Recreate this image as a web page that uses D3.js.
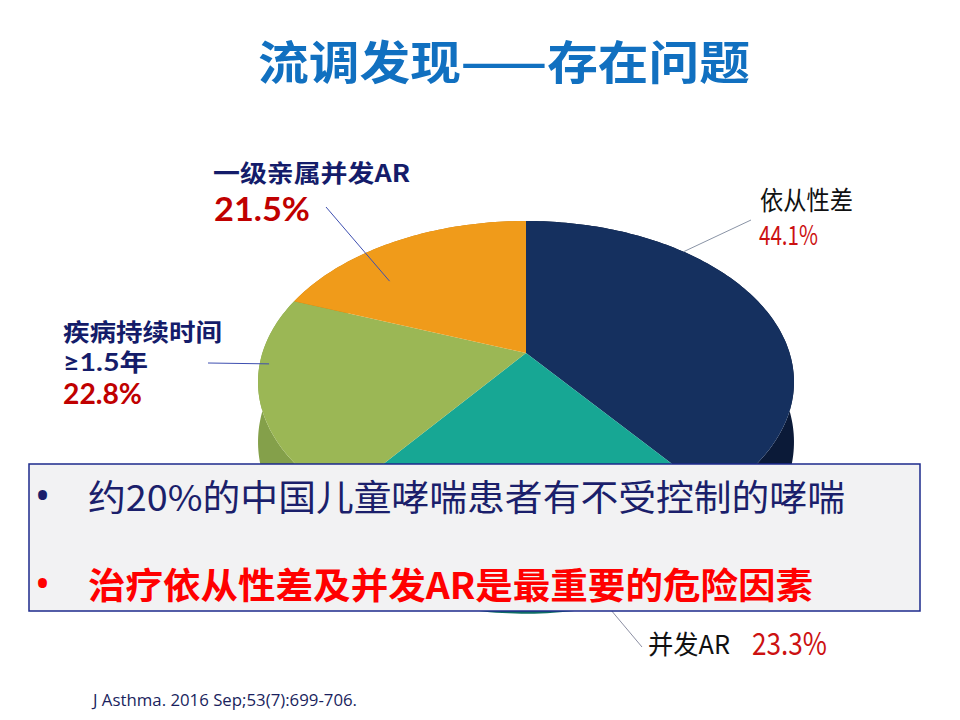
<!DOCTYPE html>
<html>
<head>
<meta charset="utf-8">
<script src="https://cdn.jsdelivr.net/npm/d3@7"></script>
<style>
body{margin:0;background:#fff;}
svg{display:block;}
</style>
</head>
<body>
<svg id="chart" width="960" height="720"></svg>
<script>
// data
var categories = ['依从性差', '并发AR', '疾病持续时间≥1.5年', '一级亲属并发AR'];
var values = [44.1, 23.3, 22.8, 21.5];
var valueLabels = ['44.1%', '23.3%', '22.8%', '21.5%'];
var categoryLines = [['依从性差'], ['并发AR'], ['疾病持续时间', '≥1.5年'], ['一级亲属并发AR']];
var bullets = ['约20%的中国儿童哮喘患者有不受控制的哮喘', '治疗依从性差及并发AR是最重要的危险因素'];

var faceColors = ['#15305F', '#17A794', '#9BB755', '#F09B1A'];
var sideColors = ['#0B1A38', '#0E6E64', '#84A04A', '#C47C12'];

var CJK = '"Noto Sans CJK SC", "Noto Sans", sans-serif';
var LATIN = 'Lato, "Noto Sans", sans-serif';
var MIXED = 'Lato, "Noto Sans CJK SC", sans-serif';

var svg = d3.select('#chart');

// perspective pie settings
var pie3d = {cx: 526, cy: 353, R: 263.6, A: 155.8, p: 0.18, depth: 58};

function proj(theta, r, z){
	var u = r * Math.sin(theta);
	var t = -r * Math.cos(theta);
	var s = 1 / (1 - pie3d.p * t);
	return [pie3d.cx + pie3d.R * u * s, pie3d.cy + (pie3d.A * t + (z || 0) * pie3d.depth) * s];
}

function arcPoints(a0, a1, z){
	var n = Math.max(8, Math.ceil((a1 - a0) / 0.02));
	return d3.range(n + 1).map(function(i){
		return proj(a0 + (a1 - a0) * i / n, 1, z);
	});
}

var line = d3.line();
var slices = d3.pie().sort(null).value(function(d){ return d; })(values);

var gPie = svg.append('g').attr('class', 'pie');

// sides, back ones first
var order = slices.map(function(s, i){ return i; }).sort(function(a, b){
	var ma = (slices[a].startAngle + slices[a].endAngle) / 2;
	var mb = (slices[b].startAngle + slices[b].endAngle) / 2;
	return Math.cos(mb) - Math.cos(ma);
});
order.forEach(function(i){
	var s = slices[i];
	var pts = arcPoints(s.startAngle, s.endAngle, 0).concat(arcPoints(s.startAngle, s.endAngle, 1).reverse());
	gPie.append('path')
		.attr('d', line(pts) + 'Z')
		.attr('fill', sideColors[i]);
});

// top faces
slices.forEach(function(s, i){
	var pts = [proj(0, 0, 0)].concat(arcPoints(s.startAngle, s.endAngle, 0));
	gPie.append('path')
		.attr('d', line(pts) + 'Z')
		.attr('fill', faceColors[i]);
});

// labels and leader lines (layout only)
var deg = Math.PI / 180;
var labelLayout = [
	{anchor: {theta: 42.6, r: 1.0, z: 0}, end: [751, 220], lineColor: '#8A94A6',
	 lines: [{x: 760, y: 210, w: 93, size: 26, weight: 400, fill: '#111111'}],
	 value: {x: 759, y: 245, w: 59, size: 27, weight: 400, fill: '#CC1111'}},
	{anchor: {theta: 170.4, r: 0.984, z: 0.5}, end: [642, 647], lineColor: '#8C8FA3',
	 lines: [{x: 648, y: 654, w: 82, size: 26, weight: 400, fill: '#111111'}],
	 value: {x: 752, y: 655, w: 75, size: 31, weight: 400, fill: '#CC1111'}},
	{anchor: {theta: 265.9, r: 0.965, z: 0}, end: [208, 363], lineColor: '#3E4FB0',
	 lines: [{x: 63, y: 341, w: 159, size: 24, weight: 700, fill: '#141C6A', family: MIXED},
	         {x: 63, y: 371, w: 85, size: 24, weight: 700, fill: '#141C6A', family: MIXED}],
	 value: {x: 63, y: 404, w: 79, size: 29, weight: 700, fill: '#C00000', family: LATIN}},
	{anchor: {theta: 311.7, r: 0.756, z: 0}, end: [326, 207], lineColor: '#3E4FB0',
	 lines: [{x: 213, y: 182, w: 197, size: 24, weight: 700, fill: '#141C6A'}],
	 value: {x: 214, y: 221, w: 96, size: 32, weight: 700, fill: '#C00000', family: LATIN}}
];

var gLeaders = svg.append('g').attr('class', 'leaders');
var gLabels = svg.append('g').attr('class', 'labels');

function addText(g, x, y, text, o){
	var family = o.family || CJK;
	var t = g.append('text')
		.attr('x', x)
		.attr('y', y)
		.attr('font-family', family)
		.attr('font-size', o.size)
		.attr('font-weight', o.weight || 400)
		.attr('fill', o.fill)
		.attr('textLength', o.w)
		.attr('lengthAdjust', 'spacingAndGlyphs');
	// the CJK font draws ≥ as a slanted form, so give it a latin face
	var parts = text.split(/(≥)/).filter(function(s){ return s.length; });
	parts.forEach(function(p){
		var ts = t.append('tspan').text(p);
		if(p === '≥' && family === CJK) ts.attr('font-family', '"Noto Sans", sans-serif');
	});
	return t;
}

labelLayout.forEach(function(l, i){
	var a = proj(l.anchor.theta * deg, l.anchor.r, l.anchor.z);
	gLeaders.append('line')
		.attr('x1', a[0]).attr('y1', a[1])
		.attr('x2', l.end[0]).attr('y2', l.end[1])
		.attr('stroke', l.lineColor)
		.attr('stroke-width', 1);
	categoryLines[i].forEach(function(txt, j){
		var o = l.lines[j];
		addText(gLabels, o.x, o.y, txt, o);
	});
	addText(gLabels, l.value.x, l.value.y, valueLabels[i], l.value);
});

// title
addText(svg, 258, 79, '流调发现——存在问题', {size: 46, weight: 700, fill: '#1170C0', w: 492});

// summary box over the pie
var box = svg.append('g').attr('class', 'box');
box.append('rect')
	.attr('x', 29).attr('y', 464)
	.attr('width', 891).attr('height', 147)
	.attr('fill', '#F2F2F3')
	.attr('stroke', '#1C2A8C')
	.attr('stroke-width', 1.5);

var bulletStyle = [
	{y: 511, fill: '#1B1F6B', weight: 400, w: 757},
	{y: 599, fill: '#FF0000', weight: 700, w: 725}
];
bullets.forEach(function(txt, i){
	var b = bulletStyle[i];
	box.append('text')
		.attr('x', 35).attr('y', b.y - 1)
		.attr('font-family', '"Noto Sans", sans-serif')
		.attr('font-size', 40)
		.attr('fill', b.fill)
		.text('•');
	addText(box, 88, b.y, txt, {size: 36, weight: b.weight, fill: b.fill, w: b.w});
});

// reference
addText(svg, 93, 706, 'J Asthma. 2016 Sep;53(7):699-706.', {size: 16.5, fill: '#1A1F5E', w: 264, family: '"Open Sans", "Noto Sans", sans-serif'});
</script>
</body>
</html>
